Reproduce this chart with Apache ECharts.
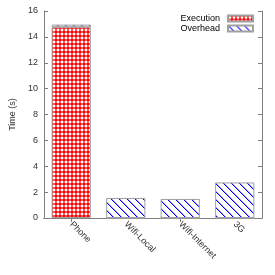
<!DOCTYPE html>
<html><head><meta charset="utf-8">
<script src="https://cdn.jsdelivr.net/npm/echarts@6/dist/echarts.min.js"></script>
<style>html,body{margin:0;padding:0;background:#fff}#c{width:275px;height:275px}</style>
</head><body><div id="c"></div>
<script>
const categories = ['Phone', 'Wifi-Local', 'Wifi-Internet', '3G'];
const execution = [14.75, 0, 0, 0];
const overhead = [0.2, 1.55, 1.47, 2.75];
const yTicks = [0, 2, 4, 6, 8, 10, 12, 14, 16];

function redPattern() {
  const c = document.createElement('canvas'); c.width = 4; c.height = 4;
  const g = c.getContext('2d');
  g.fillStyle = '#ff0000'; g.fillRect(0, 0, 4, 4);
  g.fillStyle = '#ffffff';
  g.fillRect(1, 1, 2, 2);
  g.fillStyle = 'rgba(255,255,255,0.35)';
  g.fillRect(1, 0, 2, 1); g.fillRect(0, 1, 1, 2); g.fillRect(3, 1, 1, 2); g.fillRect(1, 3, 2, 1);
  return c;
}
function bluePattern() {
  const c = document.createElement('canvas'); c.width = 8; c.height = 8;
  const g = c.getContext('2d');
  g.fillStyle = '#ffffff'; g.fillRect(0, 0, 8, 8);
  g.fillStyle = '#0000ff';
  for (let i = 0; i < 8; i++) g.fillRect(i, i, 1, 1);
  g.fillStyle = 'rgba(0,0,255,0.35)';
  for (let i = 0; i < 8; i++) g.fillRect((i + 1) % 8, i, 1, 1);
  return c;
}
const axisCol = '#7f7f7f';
const font = 'Liberation Sans, Arial, sans-serif';
const chart = echarts.init(document.getElementById('c'), null, {renderer: 'canvas'});
chart.setOption({
  animation: false,
  grid: {left: 43, right: 13, top: 11, bottom: 57},
  legend: {
    orient: 'vertical', right: 21, top: 14, align: 'right',
    itemWidth: 25, itemHeight: 6, itemGap: 1, padding: 0,
    textStyle: {fontFamily: font, fontSize: 9, lineHeight: 9, color: '#000', padding: [0, 3, 0, 0]},
    icon: 'rect',
    data: ['Execution', 'Overhead']
  },
  xAxis: [{
    type: 'category', data: categories, position: 'bottom',
    axisLine: {lineStyle: {color: axisCol, width: 1}},
    axisTick: {show: true, inside: true, alignWithLabel: true, length: 4, lineStyle: {color: axisCol}},
    axisLabel: {rotate: -45, fontFamily: font, fontSize: 9, color: '#333', margin: 5}
  }, {
    type: 'category', data: categories, position: 'top',
    axisLine: {show: true, lineStyle: {color: axisCol, width: 1}},
    axisTick: {show: true, inside: true, alignWithLabel: true, length: 4, lineStyle: {color: axisCol}},
    axisLabel: {show: false}
  }],
  yAxis: [{
    type: 'value', min: yTicks[0], max: yTicks[yTicks.length - 1], interval: 2,
    name: 'Time (s)', nameLocation: 'middle', nameGap: 27,
    nameTextStyle: {fontFamily: font, fontSize: 9, color: '#333'},
    axisLine: {show: true, lineStyle: {color: axisCol, width: 1}},
    axisTick: {show: true, inside: true, length: 4, lineStyle: {color: axisCol}},
    axisLabel: {fontFamily: font, fontSize: 9, color: '#333', margin: 6},
    splitLine: {show: false}
  }, {
    type: 'value', min: yTicks[0], max: yTicks[yTicks.length - 1], interval: 2, position: 'right',
    axisLine: {show: true, lineStyle: {color: axisCol, width: 1}},
    axisTick: {show: true, inside: true, length: 4, lineStyle: {color: axisCol}},
    axisLabel: {show: false},
    splitLine: {show: false}
  }],
  series: [{
    name: 'Execution', type: 'bar', stack: 'total', data: execution,
    barWidth: '72%',
    itemStyle: {color: {image: redPattern(), repeat: 'repeat'}, borderColor: '#a0a0a0', borderWidth: 1}
  }, {
    name: 'Overhead', type: 'bar', stack: 'total', data: overhead,
    barWidth: '72%',
    itemStyle: {color: {image: bluePattern(), repeat: 'repeat'}, borderColor: '#a0a0a0', borderWidth: 1}
  }]
});
</script></body></html>
